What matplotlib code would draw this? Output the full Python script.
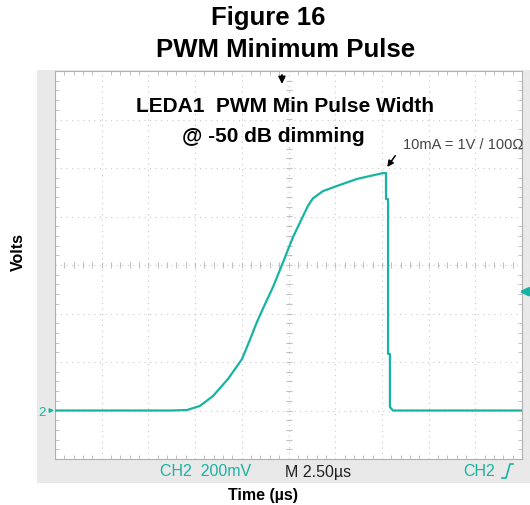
import numpy as np
import matplotlib.pyplot as plt
from matplotlib.patches import Rectangle
from matplotlib.lines import Line2D

# scope trace, CH2 (time in us, volts)
t_us = [0, 6.2, 7.07, 7.76, 8.46, 9.26, 10.01, 10.4, 10.81, 11.25, 11.67, 12.21,
        12.74, 13.28, 13.55, 13.81, 14.35, 15.10, 16.17, 16.86, 17.56, 17.72, 17.72,
        17.83, 17.83, 17.93, 17.93, 18.09, 25]
volts = [0, 0, 0.002, 0.019, 0.060, 0.130, 0.212, 0.285, 0.365, 0.440, 0.509, 0.612,
         0.715, 0.802, 0.845, 0.875, 0.905, 0.926, 0.955, 0.967, 0.979, 0.979, 0.872,
         0.872, 0.233, 0.233, 0.014, 0, 0]

teal = "#17b3a3"
W, H = 530, 506

plt.rcParams['font.family'] = ['Liberation Sans', 'DejaVu Sans']
fig = plt.figure(figsize=(W / 100, H / 100), dpi=100)

# grey scope background
fig.patches.append(Rectangle((37 / W, 1 - 484 / H), (W - 37) / W, (484 - 71) / H,
                             transform=fig.transFigure, facecolor="#e9e9e9",
                             edgecolor="none", zorder=-5))

ax = fig.add_axes([55 / W, 1 - 460 / H, (522 - 55) / W, (460 - 72) / H])
ax.set_facecolor("white")
ax.set_xlim(0, 25)
ax.set_ylim(-0.2, 1.4)
ax.set_xticks(np.arange(0, 25.1, 2.5))
ax.set_yticks(np.arange(-0.2, 1.41, 0.2))
ax.set_xticks(np.arange(0, 25.1, 0.5), minor=True)
ax.set_yticks(np.arange(-0.2, 1.41, 0.04), minor=True)
ax.tick_params(which="both", direction="in", top=True, right=True,
               labelbottom=False, labelleft=False, color="#b8b8b8")
ax.tick_params(which="major", length=0)
ax.tick_params(which="minor", length=3)
ax.grid(True, which="major", color="#c8c8c8", ls=(0, (1, 4)), lw=0.8)
for s in ax.spines.values():
    s.set_color("#b0b0b0")

# centre cross with small graduations
xm = np.arange(0, 25.01, 0.5)
ym = np.arange(-0.2, 1.401, 0.04)
ax.plot(xm, np.full(len(xm), 0.6), ls="none", marker="|", ms=4, color="#c0c0c0", mew=0.8)
ax.plot(np.full(len(ym), 12.5), ym, ls="none", marker="_", ms=5, color="#c0c0c0", mew=0.8)

ax.plot(t_us, volts, color=teal, lw=1.6, zorder=3)

# annotations
ax.text(12.3, 1.256, "LEDA1  PWM Min Pulse Width", ha="center", va="center",
        fontsize=15, fontweight="bold")
ax.text(11.7, 1.132, "@ -50 dB dimming", ha="center", va="center",
        fontsize=15, fontweight="bold")
ax.annotate("", xy=(12.15, 1.335), xytext=(12.15, 1.395),
            arrowprops=dict(arrowstyle="-|>", color="k", lw=1.3, mutation_scale=10))
ax.annotate("", xy=(17.7, 0.995), xytext=(18.3, 1.06),
            arrowprops=dict(arrowstyle="-|>", color="k", lw=1.1, mutation_scale=9))
fig.text(403 / W, 1 - 145 / H, "10mA = 1V / 100Ω", fontsize=10.5, color="#444444",
         va="center", ha="left")

# channel / trigger markers
fig.text(38 / W, 1 - 413 / H, "2", color=teal, fontsize=9.5, va="center")
ax.annotate("", xy=(0.1, 0), xytext=(-0.4, 0), xycoords="data",
            arrowprops=dict(arrowstyle="-|>", color=teal, lw=1.0, mutation_scale=6),
            annotation_clip=False)
ax.annotate("", xy=(24.7, 0.49), xytext=(25.6, 0.49),
            arrowprops=dict(arrowstyle="-|>", color=teal, lw=2.0, mutation_scale=12),
            annotation_clip=False)

# scope status line
fig.text(160 / W, 1 - 472 / H, "CH2  200mV", color=teal, fontsize=11.5, va="center")
fig.text(285 / W, 1 - 472 / H, "M 2.50µs", color="#222222", fontsize=11.5, va="center")
fig.text(463 / W, 1 - 472 / H, "CH2", color=teal, fontsize=11.5, va="center")
# rising-edge trigger symbol (no installed glyph)
fig.lines.append(Line2D([502 / W, 506 / W, 510 / W, 513 / W],
                        [1 - 479 / H, 1 - 479 / H, 1 - 465 / H, 1 - 465 / H],
                        transform=fig.transFigure, color=teal, lw=1.2))

# titles
fig.text(268 / W, 1 - 18 / H, "Figure 16", ha="center", va="center",
         fontsize=18.5, fontweight="bold")
fig.text(286 / W, 1 - 50 / H, "PWM Minimum Pulse", ha="center", va="center",
         fontsize=18.5, fontweight="bold")
fig.text(18 / W, 1 - 252 / H, "Volts", rotation=90, ha="center", va="center",
         fontsize=11.5, fontweight="bold")
fig.text(263 / W, 1 - 496 / H, "Time (µs)", ha="center", va="center",
         fontsize=11.5, fontweight="bold")

fig.savefig("out.png", dpi=100)
